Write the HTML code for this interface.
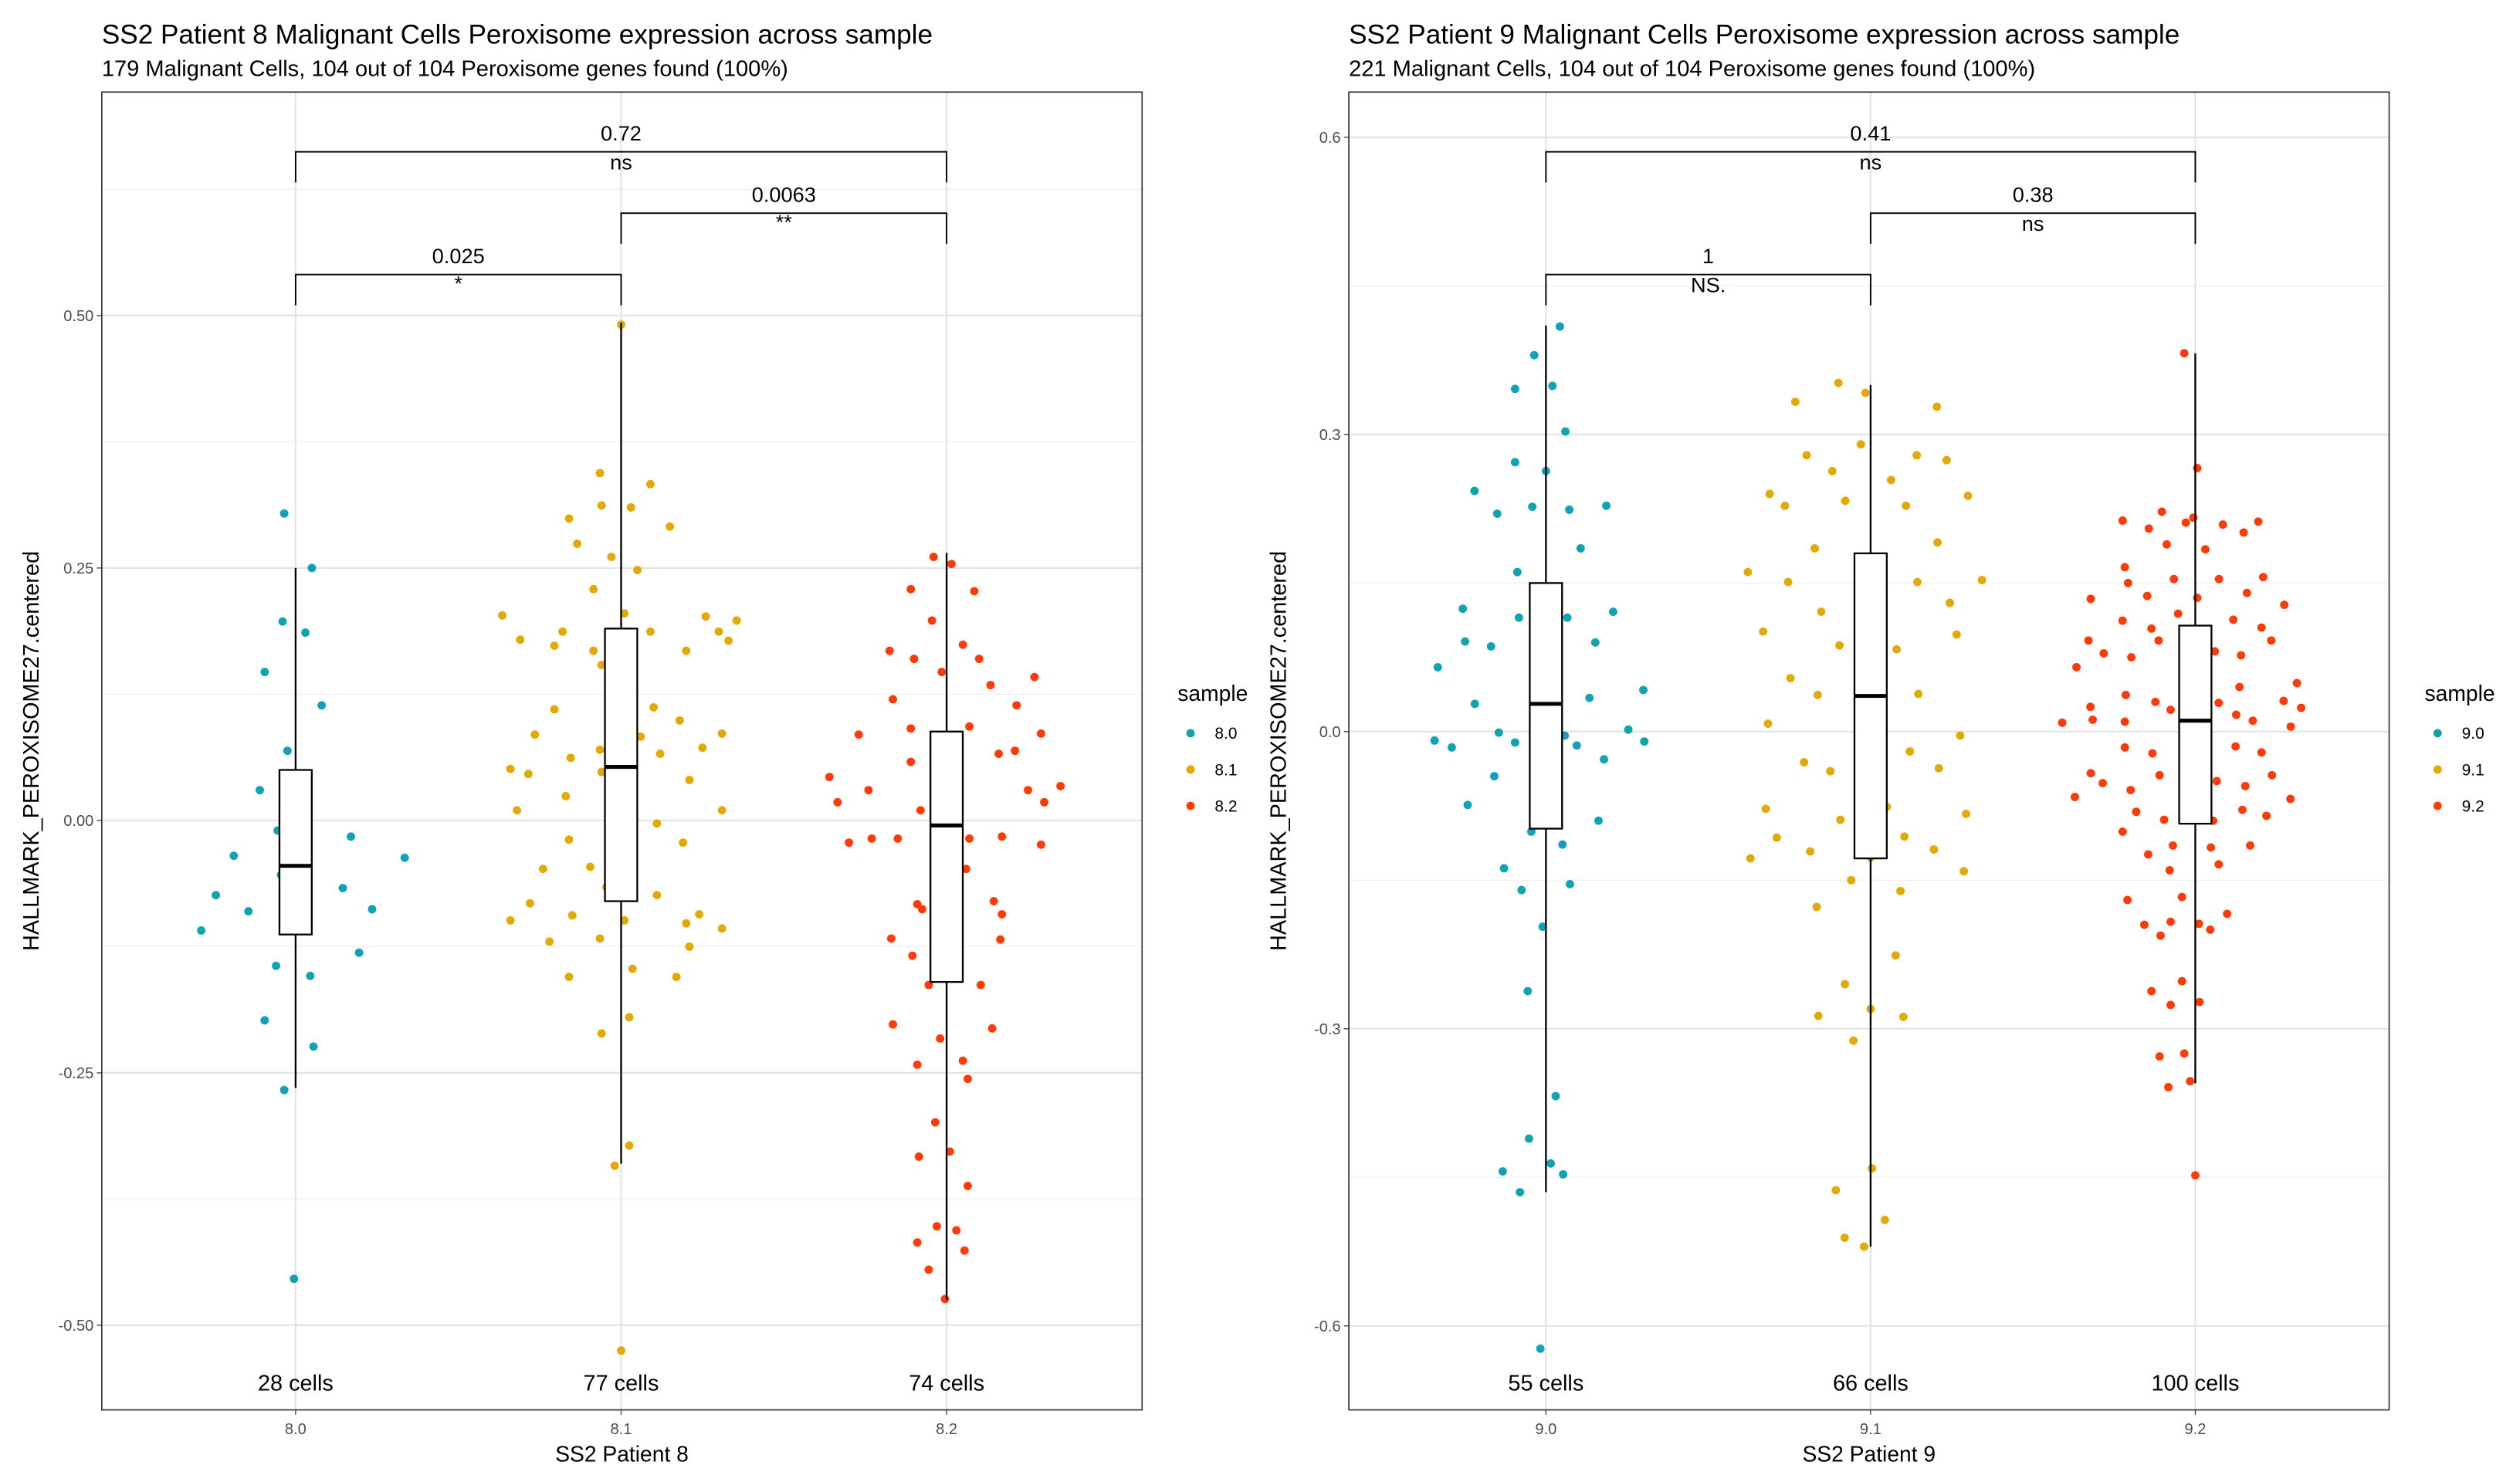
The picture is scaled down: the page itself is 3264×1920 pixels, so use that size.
<!DOCTYPE html>
<html><head><meta charset="utf-8"><style>
html,body{margin:0;padding:0;background:#fff}
svg{display:block;font-family:"Liberation Sans",sans-serif}
</style></head><body>
<svg id="chart" width="3264" height="1920" viewBox="0 0 1560 917.65" preserveAspectRatio="none" xmlns="http://www.w3.org/2000/svg">
<rect width="1560" height="917.65" fill="#fff"/>
</svg>
<script>
// ---------- data ----------
const categoriesP8 = ["8.0","8.1","8.2"];
const categoriesP9 = ["9.0","9.1","9.2"];
const ticksP8 = [-0.5,-0.25,0,0.25,0.5];
const tickLabelsP8 = ["-0.50","-0.25","0.00","0.25","0.50"];
const ticksP9 = [-0.6,-0.3,0,0.3,0.6];
const tickLabelsP9 = ["-0.6","-0.3","0.0","0.3","0.6"];
const cellLabelsP8 = ["28 cells","77 cells","74 cells"];
const cellLabelsP9 = ["55 cells","66 cells","100 cells"];
// box stats: [whiskerLow, q1, median, q3, whiskerHigh]
const boxP8 = [[-0.265,-0.113,-0.045,0.05,0.25],[-0.34,-0.08,0.053,0.19,0.493],[-0.475,-0.16,-0.005,0.088,0.265]];
const boxP9 = [[-0.465,-0.098,0.028,0.15,0.41],[-0.52,-0.128,0.036,0.18,0.35],[-0.355,-0.093,0.011,0.107,0.382]];
// comparisons: [fromIdx, toIdx, pvalue, signif]
const compP8 = [[0,2,"0.72","ns"],[1,2,"0.0063","**"],[0,1,"0.025","*"]];
const compP9 = [[0,2,"0.41","ns"],[1,2,"0.38","ns"],[0,1,"1","NS."]];
// points: [jitter (category units), value]
const p80 = [[-.035,.304],[.05,.25],[-.04,.197],[.03,.186],[-.095,.147],[.08,.114],[-.025,.069],[-.11,.03],[.04,.042],[-.055,-.01],[.17,-.016],[-.19,-.035],[.335,-.037],[-.045,-.054],[.145,-.067],[-.245,-.074],[-.145,-.09],[.235,-.088],[-.29,-.109],[.195,-.131],[-.06,-.144],[.045,-.154],[-.095,-.198],[.055,-.224],[-.035,-.267],[-.005,-.454],[.04,.045]];
const p81 = [[0,.491],[-.065,.344],[.09,.333],[-.16,.299],[-.06,.312],[.03,.31],[.15,.291],[-.135,.274],[-.03,.261],[.05,.248],[-.085,.229],[-.365,.203],[-.18,.187],[-.31,.179],[-.205,.173],[-.085,.168],[.01,.205],[.09,.187],[.2,.168],[.3,.187],[.26,.202],[.355,.198],[.33,.178],[-.06,.154],[-.205,.11],[.1,.112],[.18,.099],[.31,.086],[-.265,.085],[.06,.083],[-.065,.07],[.25,.072],[-.155,.062],[-.34,.051],[-.285,.046],[-.06,.048],[.12,.066],[.21,.04],[-.17,.024],[-.32,.01],[.31,.01],[.11,-.003],[-.16,-.019],[.19,-.022],[-.24,-.048],[-.095,-.046],[.015,-.053],[-.28,-.082],[-.15,-.094],[-.045,-.066],[.11,-.074],[.24,-.093],[-.34,-.099],[.31,-.107],[-.22,-.12],[-.065,-.117],[.21,-.125],[.01,-.099],[.2,-.102],[-.16,-.155],[.17,-.155],[.035,-.147],[-.06,-.211],[.025,-.195],[-.02,-.342],[.025,-.322],[0,-.525]];
const p82 = [[-.04,.261],[.015,.254],[-.11,.229],[.085,.227],[-.045,.198],[.05,.174],[-.175,.168],[-.1,.16],[.1,.16],[-.015,.147],[.27,.142],[.135,.134],[.215,.114],[-.165,.12],[.07,.093],[-.11,.091],[.29,.086],[-.27,.085],[.16,.066],[.21,.069],[-.36,.043],[-.24,.03],[-.11,.058],[.35,.034],[.25,.03],[.3,.018],[-.335,.018],[-.08,.01],[.07,-.018],[-.23,-.018],[-.3,-.022],[-.15,-.018],[.17,-.016],[.29,-.024],[.06,-.048],[-.09,-.083],[-.025,-.062],[.145,-.08],[.17,-.093],[-.17,-.117],[-.075,-.088],[.165,-.118],[-.105,-.134],[.03,-.134],[.105,-.163],[-.055,-.163],[-.165,-.202],[.14,-.206],[-.02,-.216],[-.09,-.242],[.05,-.238],[.065,-.256],[-.035,-.299],[-.085,-.333],[.01,-.328],[.065,-.362],[-.03,-.402],[-.09,-.418],[.03,-.406],[.055,-.426],[-.055,-.445],[-.005,-.474]];
const p90 = [[.043,.409],[-.036,.38],[-.095,.346],[.02,.349],[.06,.303],[-.095,.272],[0,.263],[-.22,.243],[-.15,.22],[-.042,.227],[.072,.224],[.186,.228],[.107,.185],[-.088,.161],[-.256,.124],[-.083,.115],[.066,.115],[.207,.121],[-.249,.091],[-.169,.086],[.152,.09],[-.333,.065],[-.219,.028],[.134,.034],[.3,.042],[-.145,-.001],[-.343,-.009],[.058,-.004],[.254,.002],[.303,-.01],[-.095,-.011],[-.29,-.016],[.095,-.014],[.179,-.028],[-.159,-.045],[-.241,-.074],[.162,-.09],[-.045,-.101],[.051,-.114],[-.129,-.138],[.074,-.154],[-.075,-.16],[-.01,-.197],[-.056,-.262],[.03,-.368],[-.052,-.411],[.015,-.436],[-.133,-.444],[.053,-.447],[-.08,-.465],[-.017,-.623]];
const p91 = [[-.099,.352],[-.016,.342],[-.232,.333],[.204,.328],[-.03,.29],[-.197,.279],[.142,.279],[.234,.274],[-.118,.263],[.063,.254],[-.311,.24],[.3,.238],[-.264,.228],[-.078,.233],[.109,.228],[.206,.191],[-.172,.185],[-.378,.161],[-.254,.151],[.144,.151],[.343,.153],[.244,.13],[-.152,.121],[-.331,.101],[.038,.106],[.265,.098],[-.096,.087],[.08,.083],[-.247,.054],[-.163,.037],[.147,.038],[-.316,.008],[.276,-.004],[.121,-.02],[-.205,-.031],[-.124,-.04],[.21,-.037],[-.323,-.078],[.05,-.076],[-.093,-.089],[.294,-.083],[-.289,-.107],[.104,-.106],[-.186,-.121],[-.37,-.128],[.195,-.119],[0,-.127],[.287,-.141],[-.06,-.15],[.092,-.161],[-.166,-.177],[.077,-.226],[-.079,-.255],[0,-.28],[-.161,-.287],[.101,-.288],[-.053,-.312],[.004,-.441],[-.107,-.463],[.044,-.493],[-.08,-.511],[-.02,-.52]];
const p92 = [[-.034,.382],[.006,.266],[-.224,.213],[-.103,.222],[-.143,.205],[-.029,.211],[-.006,.216],[.085,.209],[.149,.201],[.194,.212],[-.088,.189],[.031,.184],[-.217,.166],[-.207,.15],[-.066,.154],[.073,.154],[.209,.156],[-.148,.137],[.006,.135],[.159,.14],[-.322,.134],[.274,.128],[-.053,.119],[-.224,.112],[.117,.113],[-.135,.104],[.204,.105],[-.329,.092],[-.113,.092],[.013,.096],[.234,.092],[-.282,.079],[.06,.081],[-.197,.075],[.141,.077],[-.366,.065],[.136,.045],[.313,.049],[-.214,.037],[-.123,.03],[-.323,.025],[.072,.029],[-.076,.022],[.272,.031],[.326,.024],[.126,.017],[-.41,.009],[-.316,.012],[-.217,.01],[.177,.011],[.294,.005],[-.217,-.016],[-.132,-.022],[.035,-.023],[.124,-.015],[.204,-.021],[-.322,-.042],[-.285,-.052],[-.199,-.059],[-.11,-.044],[.066,-.05],[.154,-.055],[.236,-.044],[-.371,-.066],[.293,-.068],[-.182,-.081],[-.096,-.089],[.055,-.09],[.145,-.079],[.219,-.085],[-.224,-.101],[-.069,-.115],[.048,-.117],[.169,-.115],[-.145,-.124],[-.079,-.14],[.072,-.134],[-.209,-.17],[-.041,-.167],[.098,-.184],[-.157,-.195],[-.076,-.192],[.011,-.194],[.046,-.2],[-.107,-.206],[-.041,-.252],[-.135,-.262],[.013,-.273],[-.076,-.276],[-.11,-.328],[-.034,-.325],[-.083,-.359],[-.016,-.353],[0,-.448]];

const COLORS = ["#11A3B4","#E2A907","#FB3C0A"];
const NS = "http://www.w3.org/2000/svg";
const svg = document.getElementById('chart');
function mk(tag, attrs, parent, text){
  const e = document.createElementNS(NS, tag);
  for (const k in attrs) e.setAttribute(k, attrs[k]);
  if (text !== undefined) e.textContent = text;
  (parent || svg).appendChild(e);
  return e;
}

function drawPanel(cfg){
  const g = mk('g', {});
  
  
  const L = cfg.left, R = cfg.right, T = 57, B = 873;
  const y = v => cfg.y0 - cfg.k * v;
  const x = (i, j) => cfg.cx0 + cfg.step * (i + (j || 0));
  const t = mk('text', {x: L, y: 27, 'font-size': 16.8, fill: '#000'}, g, cfg.title);
  
  
  const st = mk('text', {x: L, y: 47, 'font-size': 13.9, fill: '#000'}, g, cfg.subtitle);
  
  
  for (let i = 0; i < cfg.ticks.length + 1; i++){
    const mv = cfg.ticks[0] + (i - 0.5) * (cfg.ticks[1] - cfg.ticks[0]);
    const yy = y(mv);
    if (yy > T && yy < B){
      const ml = mk('line', {x1: L, x2: R, y1: yy, y2: yy, stroke: '#f0f0f0', 'stroke-width': 0.6}, g);
      
      
    }
  }
  cfg.ticks.forEach((v, i) => {
    const gl = mk('line', {x1: L, x2: R, y1: y(v), y2: y(v), stroke: '#e4e4e4', 'stroke-width': 1.1}, g);
    
    
    const tk = mk('line', {x1: L - 3, x2: L, y1: y(v), y2: y(v), stroke: '#333', 'stroke-width': 0.6}, g);
    
    
    const tl = mk('text', {x: L - 5, y: y(v) + 3.4, 'font-size': 9.6, fill: '#4d4d4d', 'text-anchor': 'end'}, g, cfg.tickLabels[i]);
    
    
  });
  cfg.cats.forEach((c, i) => {
    const gl = mk('line', {x1: x(i), x2: x(i), y1: T, y2: B, stroke: '#e4e4e4', 'stroke-width': 1.1}, g);
    
    
    const tk = mk('line', {x1: x(i), x2: x(i), y1: B, y2: B + 3, stroke: '#333', 'stroke-width': 0.6}, g);
    
    
    const tl = mk('text', {x: x(i), y: B + 15, 'font-size': 9.6, fill: '#4d4d4d', 'text-anchor': 'middle'}, g, c);
    
    
  });
  cfg.points.forEach((pts, i) => {
    pts.forEach(p => {
      const c = mk('circle', {cx: x(i, p[0]), cy: y(p[1]), r: 2.6, fill: COLORS[i]}, g);
      
      
    });
  });
  const bw = 10;
  cfg.box.forEach((b, i) => {
    const cx = x(i);
    const w1 = mk('line', {x1: cx, x2: cx, y1: y(b[3]), y2: y(b[4]), stroke: '#000', 'stroke-width': 1.1}, g);
    
    
    const w2 = mk('line', {x1: cx, x2: cx, y1: y(b[1]), y2: y(b[0]), stroke: '#000', 'stroke-width': 1.1}, g);
    
    
    const r = mk('rect', {x: cx - bw, y: y(b[3]), width: 2 * bw, height: y(b[1]) - y(b[3]), fill: '#fff', stroke: '#000', 'stroke-width': 1.1}, g);
    
    
    const m = mk('line', {x1: cx - bw, x2: cx + bw, y1: y(b[2]), y2: y(b[2]), stroke: '#000', 'stroke-width': 2.4}, g);
    
    
  });
  cfg.cells.forEach((s, i) => {
    const tl = mk('text', {x: x(i), y: 861, 'font-size': 13.8, fill: '#000', 'text-anchor': 'middle'}, g, s);
    
    
  });
  const brY = [94, 132, 170];
  cfg.comps.forEach((c, k) => {
    const yy = brY[k], x1 = x(c[0]), x2 = x(c[1]);
    const p = mk('path', {d: `M${x1},${yy + 19}V${yy}H${x2}V${yy + 19}`, fill: 'none', stroke: '#000', 'stroke-width': 0.9}, g);
    
    
    const t1 = mk('text', {x: (x1 + x2) / 2, y: yy - 7, 'font-size': 13, fill: '#000', 'text-anchor': 'middle'}, g, c[2]);
    
    
    const t2 = mk('text', {x: (x1 + x2) / 2, y: yy + (c[3].indexOf('*') >= 0 ? 10 : 11), 'font-size': 13, fill: '#000', 'text-anchor': 'middle'}, g, c[3]);
    
    
  });
  const bd = mk('rect', {x: L, y: T, width: R - L, height: B - T, fill: 'none', stroke: '#333', 'stroke-width': 0.8}, g);
  
  
  const xt = mk('text', {x: (L + R) / 2, y: 905, 'font-size': 13.5, fill: '#000', 'text-anchor': 'middle'}, g, cfg.xtitle);
  
  
  const yt = mk('text', {x: 0, y: 0, 'font-size': 13.8, fill: '#000', 'text-anchor': 'middle', transform: `translate(${L - 39},${(T + B) / 2}) rotate(-90)`}, g, 'HALLMARK_PEROXISOME27.centered');
  
  
  const lg = mk('g', {}, g);
  
  
  const lt = mk('text', {x: R + 22, y: 434, 'font-size': 13.5, fill: '#000'}, lg, 'sample');
  
  
  cfg.cats.forEach((c, i) => {
    const ly = 454 + i * 22.5;
    const dot = mk('circle', {cx: R + 30, cy: ly, r: 2.6, fill: COLORS[i]}, lg);
    
    
    const tx = mk('text', {x: R + 45, y: ly + 3.5, 'font-size': 10, fill: '#000'}, lg, c);
    
    
  });
}

drawPanel({name: 'patient-8-panel', left: 63, right: 707, y0: 508, k: 625.2, cx0: 183, step: 201.5,
  cats: categoriesP8, ticks: ticksP8, tickLabels: tickLabelsP8, cells: cellLabelsP8, box: boxP8, comps: compP8,
  points: [p80, p81, p82], title: 'SS2 Patient 8 Malignant Cells Peroxisome expression across sample',
  subtitle: '179 Malignant Cells, 104 out of 104 Peroxisome genes found (100%)', xtitle: 'SS2 Patient 8'});
drawPanel({name: 'patient-9-panel', left: 835, right: 1479, y0: 453, k: 613.3, cx0: 957, step: 201,
  cats: categoriesP9, ticks: ticksP9, tickLabels: tickLabelsP9, cells: cellLabelsP9, box: boxP9, comps: compP9,
  points: [p90, p91, p92], title: 'SS2 Patient 9 Malignant Cells Peroxisome expression across sample',
  subtitle: '221 Malignant Cells, 104 out of 104 Peroxisome genes found (100%)', xtitle: 'SS2 Patient 9'});
</script>
</body></html>
